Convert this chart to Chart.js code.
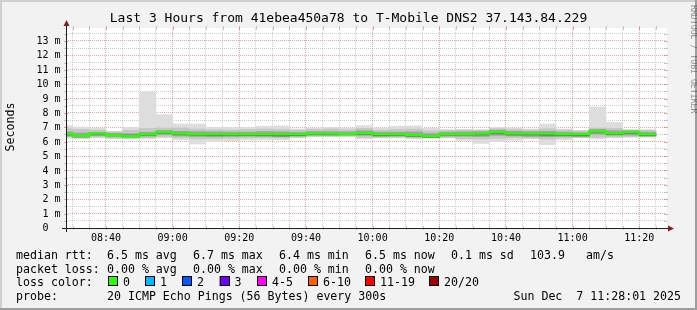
<!DOCTYPE html>
<html><head><meta charset="utf-8">
<script src="https://cdn.jsdelivr.net/npm/chart.js@4/dist/chart.umd.min.js"></script>
<style>html,body{margin:0;padding:0;background:#f2f2f2;overflow:hidden}canvas{display:block}</style>
</head><body>
<canvas id="c" width="697" height="310"></canvas>
<script>
// ---- text ----
const chartTitle = "Last 3 Hours from 41ebea450a78 to T-Mobile DNS2 37.143.84.229";
const yAxisTitle = "Seconds";
const watermark = "RRDTOOL / TOBI OETIKER";
const rangeStart = "08:28:01";
const rangeEnd = "11:28:01";

// ---- 5-minute bins (end time of each bin) ----
const binEnds = ["08:30","08:35","08:40","08:45","08:50","08:55","09:00","09:05","09:10","09:15","09:20","09:25",
  "09:30","09:35","09:40","09:45","09:50","09:55","10:00","10:05","10:10","10:15","10:20","10:25",
  "10:30","10:35","10:40","10:45","10:50","10:55","11:00","11:05","11:10","11:15","11:20","11:25"];

// median rtt (ms)
const medianMs = [6.54,6.42,6.56,6.44,6.37,6.51,6.65,6.56,6.51,6.51,6.51,6.51,
  6.51,6.51,6.51,6.56,6.56,6.54,6.60,6.51,6.51,6.47,6.37,6.54,
  6.54,6.56,6.65,6.56,6.56,6.56,6.51,6.51,6.70,6.58,6.65,6.51];
// smoke: full range of the 20 pings (ms)
const smokeMax = [7.11,7.02,6.93,6.72,7.00,9.46,7.88,7.23,7.23,7.00,7.00,7.00,
  7.07,7.09,6.88,6.95,7.00,6.95,7.11,6.95,7.07,7.10,6.93,6.84,
  6.86,6.84,7.00,6.95,6.88,7.23,6.88,6.78,8.41,7.34,6.86,6.84];
const smokeMin = [6.26,6.20,6.26,6.20,6.19,6.19,6.26,6.14,5.84,6.02,6.07,6.14,
  6.14,6.14,6.26,6.33,6.33,6.35,6.19,6.26,6.26,6.19,6.26,6.26,
  6.09,5.88,6.02,6.09,6.19,5.79,6.14,6.26,6.19,6.26,6.30,6.30];
// smoke: middle band
const smokeHi2 = [6.90,6.85,6.80,6.68,6.78,6.92,6.95,6.95,6.88,6.82,6.80,6.85,
  6.88,6.85,6.80,6.85,6.88,6.82,6.92,6.80,6.85,6.88,6.75,6.78,
  6.80,6.78,6.90,6.85,6.80,6.90,6.80,6.75,6.95,6.92,6.78,6.78];
const smokeLo2 = [6.32,6.26,6.32,6.26,6.24,6.28,6.35,6.28,6.20,6.22,6.24,6.28,
  6.28,6.26,6.32,6.38,6.38,6.40,6.30,6.30,6.32,6.26,6.30,6.30,
  6.22,6.20,6.24,6.28,6.26,6.18,6.26,6.30,6.30,6.32,6.35,6.35];
// smoke: inner band
const smokeHi3 = [6.68,6.60,6.65,6.58,6.55,6.65,6.78,6.72,6.70,6.68,6.66,6.66,
  6.70,6.68,6.64,6.70,6.70,6.68,6.76,6.66,6.66,6.68,6.56,6.66,
  6.68,6.70,6.80,6.72,6.70,6.72,6.66,6.62,6.85,6.76,6.76,6.66];
const smokeLo3 = [6.40,6.30,6.42,6.33,6.28,6.38,6.50,6.40,6.36,6.34,6.36,6.38,
  6.36,6.34,6.38,6.45,6.44,6.46,6.44,6.36,6.38,6.34,6.28,6.38,
  6.38,6.36,6.44,6.40,6.36,6.34,6.36,6.34,6.52,6.45,6.45,6.38];
// smoke: darkest core next to the median
const smokeHi4 = [6.52,6.40,6.54,6.50,6.46,6.49,6.63,6.54,6.49,6.49,6.50,6.49,
  6.49,6.49,6.49,6.54,6.54,6.52,6.58,6.49,6.49,6.45,6.35,6.52,
  6.52,6.54,6.63,6.54,6.54,6.54,6.49,6.49,6.68,6.56,6.63,6.49];
const smokeLo4 = [6.46,6.34,6.48,6.42,6.40,6.44,6.57,6.48,6.44,6.42,6.43,6.43,
  6.42,6.40,6.42,6.48,6.48,6.48,6.52,6.42,6.43,6.38,6.30,6.46,
  6.46,6.47,6.55,6.47,6.47,6.45,6.42,6.41,6.62,6.50,6.56,6.43];

// ---- axis labels ----
const yTickValues = [0,1,2,3,4,5,6,7,8,9,10,11,12,13];
const yTickLabels = ["0","1 m","2 m","3 m","4 m","5 m","6 m","7 m","8 m","9 m","10 m","11 m","12 m","13 m"];
const xTickLabels = ["08:40","09:00","09:20","09:40","10:00","10:20","10:40","11:00","11:20"];
const yMax = 13.9;

// ---- legend ----
const legendRow1 = [["median rtt:",16],["6.5 ms avg",107],["6.7 ms max",193],["6.4 ms min",279],["6.5 ms now",365],["0.1 ms sd",451],["103.9",530],["am/s",586]];
const legendRow2 = [["packet loss:",16],["0.00 % avg",107],["0.00 % max",193],["0.00 % min",279],["0.00 % now",365]];
const lossLabels = ["0","1","2","3","4-5","6-10","11-19","20/20"];
const lossColors = ["#26ff00","#00b8ff","#0059ff","#7000ff","#ff00f8","#ff5e00","#ff0000","#a10000"];
const lossBoxX = [108,145,182,219.5,257,308,365,429];
const probeText = "20 ICMP Echo Pings (56 Bytes) every 300s";
const dateText = "Sun Dec  7 11:28:01 2025";

// ---- helpers ----
function toMin(s){const p=s.split(':').map(Number);return p[0]*60+p[1]+(p[2]||0)/60;}
const MONO = '"DejaVu Sans Mono", "Liberation Mono", monospace';

const smokeBand = (lo, hi) => binEnds.map((e,i)=>({x: toMin(e)-2.5, y:[lo[i], hi[i]]}));
const medianPts = binEnds.flatMap((e,i)=>[{x: toMin(e)-5, y: medianMs[i]},{x: toMin(e), y: medianMs[i]}]);

const xGrid = []; for(let m=toMin("08:30"); m<toMin(rangeEnd); m+=5) xGrid.push(m);
const yGrid = []; for(let v=0.5; v<yMax; v+=0.5) yGrid.push(v);

const GRID = 'rgba(143,143,143,0.45)';
const MGRID = 'rgba(222,79,79,0.5)';

const bgPlugin = {
  id:'bg',
  beforeDraw(chart){
    const c = chart.ctx, a = chart.chartArea;
    c.save();
    c.fillStyle = '#f2f2f2'; c.fillRect(0,0,chart.width,chart.height);
    c.fillStyle = '#ffffff'; c.fillRect(a.left, a.top, a.right-a.left+1, a.bottom-a.top);
    c.fillStyle = '#cfcfcf'; c.fillRect(0,0,chart.width,2); c.fillRect(0,0,2,chart.height);
    c.fillStyle = '#9e9e9e'; c.fillRect(0,chart.height-2,chart.width,2); c.fillRect(chart.width-2,0,2,chart.height);
    c.restore();
  }
};

const decorPlugin = {
  id:'decor',
  afterDraw(chart){
    const c = chart.ctx, a = chart.chartArea, xs = chart.scales.x, ys = chart.scales.y;
    c.save();
    c.lineWidth = 1;
    xGrid.forEach(v=>{
      const x = Math.round(xs.getPixelForValue(v))+0.5;
      c.strokeStyle = (v%20===0)?MGRID:GRID;
      c.beginPath(); c.moveTo(x,a.bottom-2); c.lineTo(x,a.bottom+2);
      c.moveTo(x,a.top-2); c.lineTo(x,a.top+2); c.stroke();
    });
    yGrid.forEach(v=>{
      const y = Math.round(ys.getPixelForValue(v))+0.5;
      c.strokeStyle = (v%1===0)?MGRID:GRID;
      c.beginPath(); c.moveTo(a.left-2,y); c.lineTo(a.left+2,y);
      c.moveTo(a.right-2,y); c.lineTo(a.right+2,y); c.stroke();
    });
    const x0 = Math.round(a.left)+0.5, y0 = Math.round(a.bottom)+0.5;
    c.strokeStyle = '#1f1f1f';
    c.beginPath(); c.moveTo(a.left-4, y0); c.lineTo(a.right+4, y0);
    c.moveTo(x0, a.bottom+4); c.lineTo(x0, a.top-4); c.stroke();
    c.fillStyle = '#801f1f';
    c.beginPath(); c.moveTo(a.right+2, y0-3); c.lineTo(a.right+2, y0+3); c.lineTo(a.right+8, y0); c.closePath(); c.fill();
    c.beginPath(); c.moveTo(x0-3, a.top-2); c.lineTo(x0+3, a.top-2); c.lineTo(x0, a.top-8); c.closePath(); c.fill();

    c.fillStyle = '#000';
    c.font = '10px ' + MONO; c.textAlign='right'; c.textBaseline='middle';
    yTickValues.forEach((v,i)=>{
      const lab = yTickLabels[i].indexOf(' ')<0 ? yTickLabels[i]+'  ' : yTickLabels[i];
      c.fillText(lab, 60.5, ys.getPixelForValue(v)+0.5);
    });
    c.textAlign='center';
    xTickLabels.forEach(t=>{ c.fillText(t, xs.getPixelForValue(toMin(t)), 238.5); });
    c.font = '13px ' + MONO; c.textBaseline='middle';
    c.fillText(chartTitle, chart.width/2, 19);
    c.save(); c.translate(10.5, 127); c.rotate(-Math.PI/2);
    c.font = '11.6px ' + MONO; c.fillText(yAxisTitle, 0, 0); c.restore();
    c.save(); c.translate(693.5, 5); c.rotate(Math.PI/2);
    c.font = '8.2px ' + MONO; c.textAlign='left'; c.fillStyle='rgba(0,0,0,0.42)';
    c.fillText(watermark, 0, 0); c.restore();
    c.font = '11.6px ' + MONO; c.textAlign='left'; c.textBaseline='alphabetic'; c.fillStyle='#000';
    legendRow1.forEach(([t,x])=>c.fillText(t,x,259));
    legendRow2.forEach(([t,x])=>c.fillText(t,x,272.5));
    c.fillText("loss color:",16,286);
    lossLabels.forEach((t,i)=>{
      const bx = lossBoxX[i];
      c.fillStyle = lossColors[i]; c.fillRect(bx,276,10,10);
      c.strokeStyle = '#000'; c.lineWidth=1; c.strokeRect(Math.round(bx)+0.5,276.5,9,9);
      c.fillStyle = '#000'; c.fillText(t, bx+15, 286);
    });
    c.fillText("probe:",16,299.5);
    c.fillText(probeText,107,299.5);
    c.textAlign='right'; c.fillText(dateText,681,299.5);
    c.restore();
  }
};

const barCommon = {type:'bar', grouped:false, barPercentage:1, categoryPercentage:1, borderWidth:0, borderSkipped:false};

new Chart(document.getElementById('c'), {
  data:{ datasets:[
    Object.assign({}, barCommon, {data: smokeBand(smokeMin, smokeMax), backgroundColor:'#dddddd', order:5}),
    Object.assign({}, barCommon, {data: smokeBand(smokeLo2, smokeHi2), backgroundColor:'#c6c6c6', order:4}),
    Object.assign({}, barCommon, {data: smokeBand(smokeLo3, smokeHi3), backgroundColor:'#a2a2a2', order:3}),
    Object.assign({}, barCommon, {data: smokeBand(smokeLo4, smokeHi4), backgroundColor:'#5a5a5a', order:2}),
    {type:'line', data: medianPts, borderColor:'#26ff00', borderWidth:2.5, pointRadius:0, tension:0, order:0, borderJoinStyle:'miter'}
  ]},
  options:{
    responsive:false, animation:false, devicePixelRatio:1,
    layout:{padding:{left:66, right:31, top:28, bottom:82}},
    plugins:{legend:{display:false}, tooltip:{enabled:false}},
    scales:{
      x:{type:'linear', offset:false, min: toMin(rangeStart), max: toMin(rangeEnd),
         afterBuildTicks: s => { s.ticks = xGrid.map(v=>({value:v})); },
         ticks:{display:false},
         grid:{offset:false, drawTicks:false, color: ctx => (ctx.tick && ctx.tick.value%20===0) ? MGRID : GRID},
         border:{display:false, dash:[1,1]}},
      y:{type:'linear', min:0, max:yMax,
         afterBuildTicks: s => { s.ticks = yGrid.map(v=>({value:v})); },
         ticks:{display:false},
         grid:{drawTicks:false, color: ctx => (ctx.tick && ctx.tick.value%1===0) ? MGRID : GRID},
         border:{display:false, dash:[1,1]}}
    }
  },
  plugins:[bgPlugin, decorPlugin]
});
</script>
</body></html>
